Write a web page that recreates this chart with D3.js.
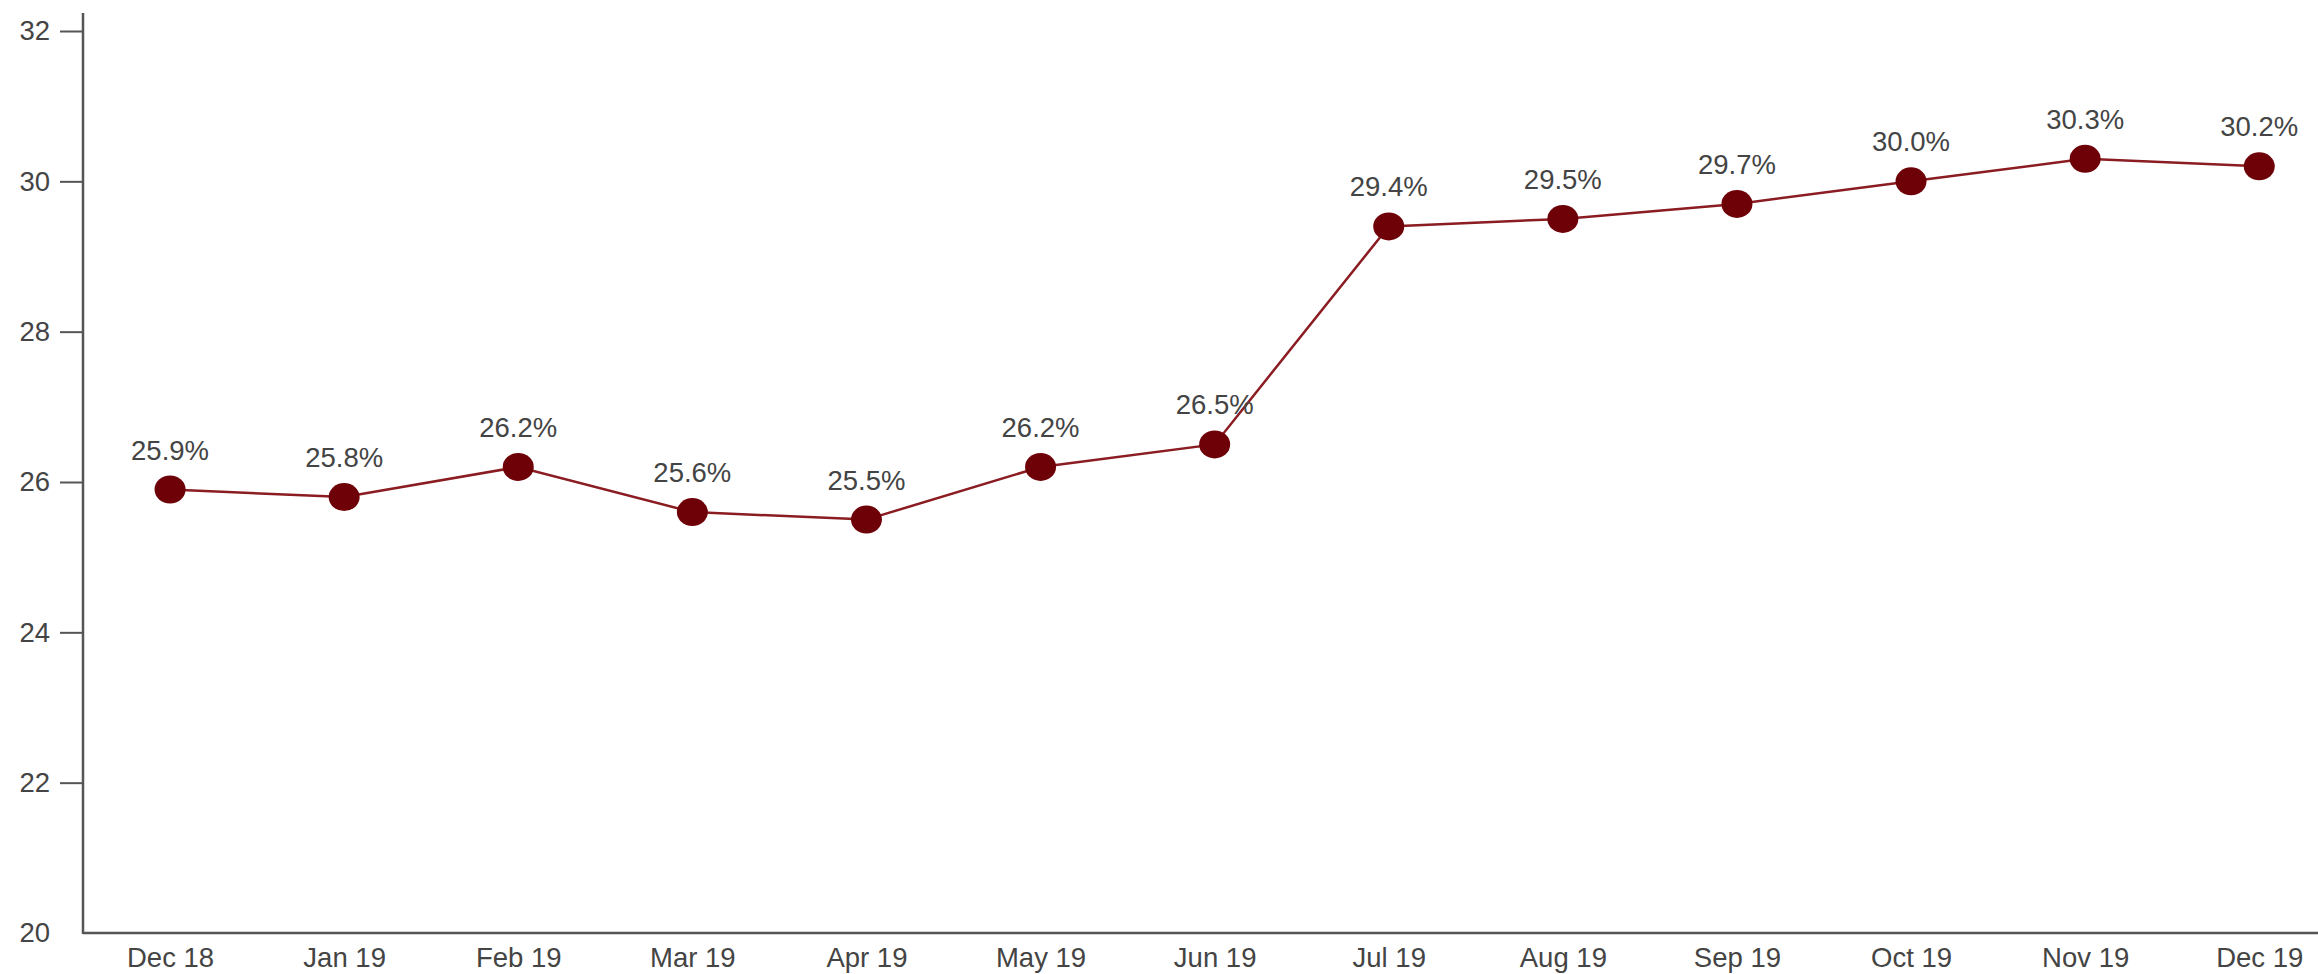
<!DOCTYPE html>
<html lang="en">
<head>
<script src="https://d3js.org/d3.v7.min.js"></script>
<style>
body { margin: 0; background: #fff; }
text { font-family: "Liberation Sans", Arial, sans-serif; fill: #444; }
</style>
</head>
<body>
<svg width="2318" height="974"></svg>
<script>
var months = ["Dec 18", "Jan 19", "Feb 19", "Mar 19", "Apr 19", "May 19", "Jun 19",
  "Jul 19", "Aug 19", "Sep 19", "Oct 19", "Nov 19", "Dec 19"];
var values = [25.9, 25.8, 26.2, 25.6, 25.5, 26.2, 26.5, 29.4, 29.5, 29.7, 30.0, 30.3, 30.2];
var yTicks = [20, 22, 24, 26, 28, 30, 32];

var svg = d3.select("svg");
var W = +svg.attr("width");
var left = 83, bottom = 933;

var x = d3.scalePoint().domain(months).range([left, left + 13 * 174.1]).padding(0.5);
var y = d3.scaleLinear().domain([20, 32]).range([bottom, 31]);

// y axis
var ya = svg.append("g")
  .attr("transform", "translate(" + left + ",0)")
  .call(d3.axisLeft(y).tickValues(yTicks).tickSize(23).tickPadding(10));
ya.select(".domain").remove();
ya.selectAll(".tick line").attr("stroke", "#555").attr("stroke-width", 2);
ya.selectAll(".tick text").attr("font-size", "27.5px").attr("fill", "#444");
ya.selectAll(".tick").filter(function(d) { return d === 20; }).select("line").remove();
ya.attr("font-family", null);

// x axis
var xa = svg.append("g")
  .attr("transform", "translate(0," + bottom + ")")
  .call(d3.axisBottom(x).tickSize(0).tickPadding(14));
xa.select(".domain").remove();
xa.selectAll(".tick text").attr("font-size", "27.5px").attr("fill", "#444");
xa.attr("font-family", null);

svg.append("line").attr("x1", left).attr("x2", left).attr("y1", 13).attr("y2", bottom + 1)
  .attr("stroke", "#555").attr("stroke-width", 2.5);
svg.append("line").attr("x1", left).attr("x2", W).attr("y1", bottom).attr("y2", bottom)
  .attr("stroke", "#555").attr("stroke-width", 2.5);

// line
var line = d3.line()
  .x(function(d, i) { return x(months[i]); })
  .y(function(d) { return y(d); });
svg.append("path").datum(values)
  .attr("d", line)
  .attr("fill", "none")
  .attr("stroke", "#8a1c22")
  .attr("stroke-width", 2.5);

svg.selectAll(".dot").data(values).enter().append("ellipse")
  .attr("class", "dot")
  .attr("cx", function(d, i) { return x(months[i]); })
  .attr("cy", function(d) { return y(d); })
  .attr("rx", 15.5).attr("ry", 14)
  .attr("fill", "#6e0008");

svg.selectAll(".lbl").data(values).enter().append("text")
  .attr("class", "lbl")
  .attr("x", function(d, i) { return x(months[i]); })
  .attr("y", function(d) { return y(d) - 30; })
  .attr("text-anchor", "middle")
  .attr("font-size", "27.5px")
  .text(function(d) { return d.toFixed(1) + "%"; });
</script>
</body>
</html>
